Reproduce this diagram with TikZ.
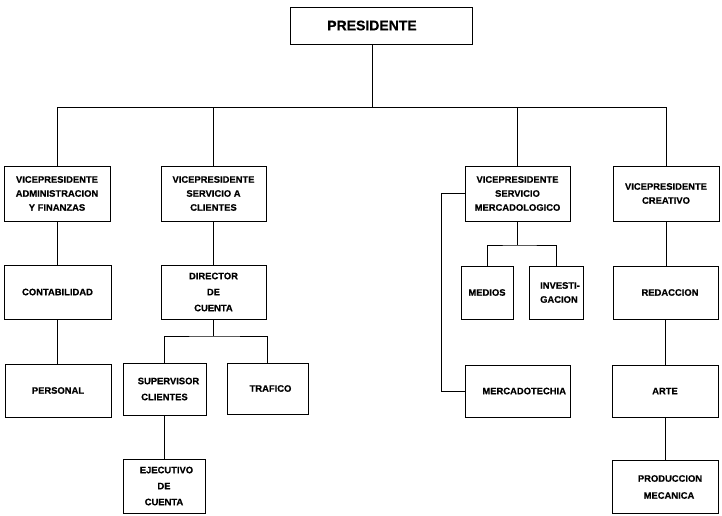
\documentclass[tikz,border=0pt]{standalone}
\usepackage{fontspec}
\setmainfont{Liberation Sans}[BoldFeatures={FakeBold=0.5}]
\newcommand\boxfont{\fontsize{9.4}{14}\selectfont\bfseries}
\newcommand\boxfontw{\fontsize{9.4}{16}\selectfont\bfseries}
\begin{document}
\begin{tikzpicture}[x=1pt,y=-1pt,
  box/.style={draw, line width=0.9pt, inner sep=0pt, align=center, font=\boxfontw},
  vpbox/.style={box, font=\boxfont},
  sz/.style 2 args={minimum width=#1pt, minimum height=#2pt},
  conn/.style={draw, line width=0.9pt}]
\useasboundingbox (0,0) rectangle (722,515);
% boxes
\node[box, sz={182}{37}, font=\fontsize{14}{16}\selectfont\bfseries] (pres) at (381,25.5) {PRESIDENTE\hspace*{18pt}};
\node[vpbox, sz={106}{55}] (vp1) at (57,193.5) {VICEPRESIDENTE\\ADMINISTRACION\\Y FINANZAS};
\node[vpbox, sz={105}{55}] (vp2) at (213.5,193.5) {VICEPRESIDENTE\\SERVICIO A\\CLIENTES};
\node[vpbox, sz={105}{55}] (vp3) at (517.5,193.5) {VICEPRESIDENTE\\SERVICIO\\MERCADOLOGICO};
\node[vpbox, sz={106}{55}] (vp4) at (666,193.5) {VICEPRESIDENTE\\CREATIVO};
\node[box, sz={107}{54}] (cont) at (57.5,292) {CONTABILIDAD};
\node[box, sz={105}{54}] (dir) at (213.5,292) {DIRECTOR\\DE\\CUENTA};
\node[box, sz={52}{53}] (medios) at (487,292.5) {MEDIOS};
\node[box, sz={54}{53}, align=left, font=\boxfont] (inv) at (556,292.5) {\hspace*{8pt}INVESTI-\\\hspace*{8pt}GACION};
\node[box, sz={105}{53}] (red) at (665.5,292.5) {\hspace*{9pt}REDACCION};
\node[box, sz={106}{53}] (pers) at (58,390.5) {PERSONAL};
\node[box, sz={83}{52}] (sup) at (164.5,389) {\hspace*{8pt}SUPERVISOR\\CLIENTES};
\node[box, sz={81}{51}] (traf) at (267.5,388.5) {\hspace*{6pt}TRAFICO};
\node[box, sz={105}{52}, text width=97pt, inner xsep=4pt, align=right] (merc) at (517.5,391) {MERCADOTECHIA};
\node[box, sz={106}{52}] (arte) at (665,391) {ARTE};
\node[box, sz={82}{54}] (ejec) at (164,486) {\hspace*{5pt}EJECUTIVO\\DE\\CUENTA};
\node[box, sz={106}{53}, font=\fontsize{9.4}{17}\selectfont\bfseries] (prod) at (665,487) {\hspace*{10pt}PRODUCCION\\\hspace*{8pt}MECANICA};
% connectors
\coordinate (busL) at (57,107);
\coordinate (b2) at (0,336);
\coordinate (b3) at (0,245);
\draw[conn] ([xshift=-9pt]pres.south) -- ([xshift=-9pt]pres.south |- busL);
\draw[conn] (vp1.north |- busL) -- (vp4.north |- busL);
\foreach \n in {vp1,vp2,vp3,vp4} \draw[conn] (\n.north) -- (\n.north |- busL);
\draw[conn] (vp1.south) -- (vp1.south |- cont.north);
\draw[conn] (cont.south) -- (cont.south |- pers.north);
\draw[conn] (vp2.south) -- (vp2.south |- dir.north);
\draw[conn] (dir.south) -- (dir.south |- b2);
\draw[conn] (sup.north) |- (dir.south |- b2) -| (traf.north);
\draw[conn] (sup.south) -- (sup.south |- ejec.north);
\draw[conn] (vp3.south) -- (vp3.south |- b3);
\draw[conn] (medios.north) |- (vp3.south |- b3) -| (inv.north);
\draw[conn] (vp3.west) -- ++(-23,0) |- (merc.west);
\draw[conn] (vp4.south) -- (vp4.south |- red.north);
\draw[conn] (red.south) -- (red.south |- arte.north);
\draw[conn] (arte.south) -- (arte.south |- prod.north);
\end{tikzpicture}
\end{document}
